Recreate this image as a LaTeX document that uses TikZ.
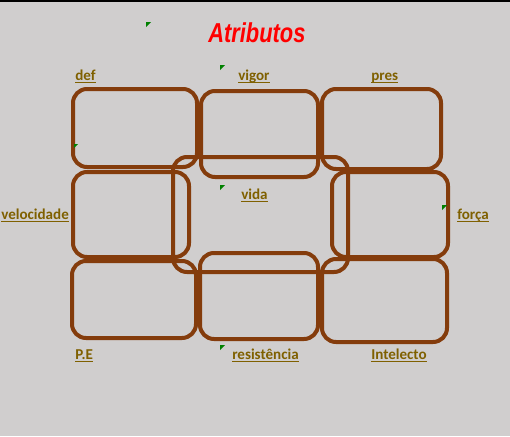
\documentclass[tikz,border=0pt]{standalone}
\usepackage{fontspec}
\setmainfont{Carlito}
\newfontfamily\titlefont[FakeStretch=0.8]{Liberation Sans}
\usetikzlibrary{fit}
\definecolor{boxbrown}{RGB}{132,60,12}
\definecolor{cellgray}{RGB}{208,206,206}
\definecolor{labelgold}{RGB}{127,96,0}
\definecolor{notegreen}{RGB}{0,128,0}
\newcommand\celltext[1]{\setbox0\hbox{#1}\rlap{\rule[-2.3pt]{\wd0}{0.8pt}}\box0}
\tikzset{
  box/.style={draw=boxbrown, line width=3pt, rounded corners=10.5pt, inner sep=0pt},
  lbl/.style={text=labelgold, font=\bfseries\fontsize{11.3}{13}\selectfont, inner sep=0pt, anchor=base west},
  note/.style={fill=notegreen}
}
\begin{document}
\begin{tikzpicture}[x=0.75pt, y=-0.75pt]
      \useasboundingbox (0,0) rectangle (510,436);
      \fill[cellgray] (0,0) rectangle (510,436);
      \draw[line width=1.2pt] (0,1) -- (510,1);
      % title
      \node[font=\titlefont\bfseries\itshape\fontsize{20.5}{24}\selectfont, text=red,
        inner sep=0pt, anchor=base west] (title) at (208,42) {Atributos};
      % boxes
      \begin{scope}[box]
        \node[box, fit={(73,89) (197,167)}] (def) {};
        \node[box, fit={(201,91) (318,177)}] (vigor) {};
        \node[box, fit={(322,89) (441,169)}] (pres) {};
        \node[box, fit={(73,172) (189,257)}] (velocidade) {};
        \node[box, fit={(173,157) (348,272)}] (vida) {};
        \node[box, fit={(332,172) (448,257)}] (forca) {};
        \node[box, fit={(72,261) (196,338)}] (pe) {};
        \node[box, fit={(200,253) (318,339)}] (resistencia) {};
        \node[box, fit={(322,259) (447,342)}] (intelecto) {};
      \end{scope}
      % labels
      \draw
        (75,80) node[lbl] (def-l){\celltext{def}}
        (238,80) node[lbl] (vigor-l){\celltext{vigor}}
        (371,80) node[lbl] (pres-l){\celltext{pres}}
        (1,219) node[lbl] (velocidade-l){\celltext{velocidade}}
        (241,199) node[lbl] (vida-l){\celltext{vida}}
        (457,219) node[lbl] (forca-l){\celltext{força}}
        (75,359) node[lbl] (pe-l){\celltext{P.E}}
        (232,359) node[lbl] (resistencia-l){\celltext{resistência}}
        (371,359) node[lbl] (intelecto-l){\celltext{Intelecto}};
      % comment marks
      \fill[note] (146,22) -- ++(5,0) -- ++(-5,5) -- cycle;
      \fill[note] (220,65) -- ++(5,0) -- ++(-5,5) -- cycle;
      \fill[note] (74,144) -- ++(4,0) -- ++(-4,4) -- cycle;
      \fill[note] (220,185) -- ++(5,0) -- ++(-5,5) -- cycle;
      \fill[note] (442,205) -- ++(5,0) -- ++(-5,5) -- cycle;
      \fill[note] (220,345) -- ++(5,0) -- ++(-5,5) -- cycle;
    \end{tikzpicture}
\end{document}
